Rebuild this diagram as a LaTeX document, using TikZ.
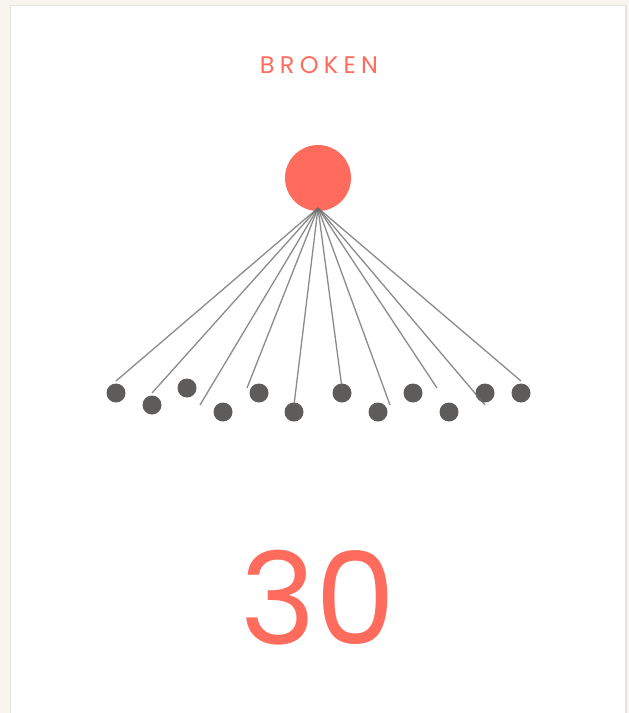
\documentclass[tikz,border=0pt]{standalone}
\usepackage{fontspec}
\setmainfont{Poppins}
\newfontfamily\titlefont[LetterSpace=22]{Poppins}
\definecolor{bgout}{HTML}{F8F5EF}
\definecolor{cardline}{HTML}{E8E4DD}
\definecolor{coral}{HTML}{FF6B5C}
\definecolor{dotgrey}{HTML}{5E5C5A}
\definecolor{linegrey}{HTML}{6E6E6E}
\tikzset{
  leaf/.style={circle, fill=dotgrey, inner sep=0pt, minimum size=19pt},
  hub/.style={circle, fill=coral, inner sep=0pt, minimum size=66pt},
  spoke/.style={draw=linegrey, line width=1.3pt, opacity=0.8},
}
\begin{document}
\begin{tikzpicture}[x=1pt,y=-1pt]
\fill[bgout] (0,0) rectangle (629,713);
\useasboundingbox (0,0) rectangle (629,713);
\filldraw[fill=white, draw=cardline, line width=1.5pt] (10.5,5.5) rectangle (626,730);
\node[text=coral, font=\titlefont\fontsize{24}{28}\selectfont] (title) at (319,65) {BROKEN};
\node[hub] (hub) at (318,178) {};
\coordinate (apex) at (318,208);
\foreach \n/\x/\y in {1/116/393, 2/152/405, 3/187/388, 4/223/412, 5/259/393, 6/294/412,
  7/342/393, 8/378/412, 9/413/393, 10/449/412, 11/485/393, 12/521/393}
  \node[leaf] (d\n) at (\x,\y) {};
\foreach \n/\x/\y in {1/116/381, 2/152/393, 3/200/405, 4/247/388, 5/294/405,
  6/342/388, 7/390/405, 8/437/388, 9/485/405, 10/521/381}
  \coordinate (e\n) at (\x,\y);
\foreach \n in {1,...,10}
  \draw[spoke] (apex) -- (e\n);
\node[text=coral, font=\fontsize{128}{130}\selectfont] (num) at (318,598) {30};
\end{tikzpicture}
\end{document}
